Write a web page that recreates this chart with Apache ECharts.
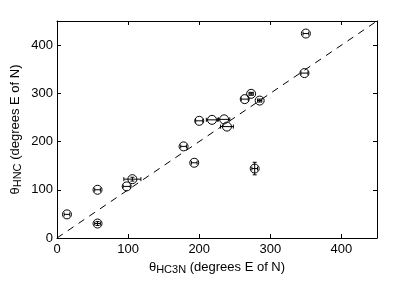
<!DOCTYPE html>
<html><head><meta charset="utf-8">
<script src="https://cdn.jsdelivr.net/npm/echarts@6/dist/echarts.min.js"></script>
<style>html,body{margin:0;padding:0;background:#fff}#c{width:415px;height:282px}</style>
</head><body><div id="c"></div><script>
// Data
const xVals = [14, 57, 57, 98, 106, 178, 193, 200, 218, 235, 239, 278, 264, 273, 285, 348, 350];
const yVals = [49, 100, 30, 107, 122, 190, 156, 243, 245, 246, 231, 144, 288, 299, 285, 342, 424];
const xErr  = [4, 4, 4, 5, 12, 4, 4, 5, 8, 8, 9, 4, 5, 3, 3, 5, 4];
const yErr  = [0, 0, 4, 0, 4, 0, 0, 0, 0, 0, 0, 13, 0, 3, 3, 0, 0];
const xTickLabels = [0, 100, 200, 300, 400];
const yTickLabels = [0, 100, 200, 300, 400];
const diagX = [0, 450];
const diagY = [0, 450];

const pts = xVals.map((x, i) => [x, yVals[i], xErr[i], yErr[i]]);
const diag = diagX.map((x, i) => [x, diagY[i]]);
const FONT = 'Liberation Sans';

const chart = echarts.init(document.getElementById('c'), null, {renderer: 'canvas'});
const axisCommon = {
  type: 'value', min: 0, max: 450, interval: 100,
  axisLine: {show: true, onZero: false, lineStyle: {color: '#000', width: 1}},
  axisTick: {show: true, inside: true, length: 4, lineStyle: {color: '#000'}},
  splitLine: {show: false}
};
function lab(list) {
  return {show: true, color: '#000', fontFamily: FONT, fontSize: 13,
    formatter: v => list.indexOf(v) >= 0 ? String(v) : ''};
}
const rich = {
  t: {fontFamily: FONT, fontSize: 13, color: '#000', lineHeight: 16},
  s: {fontFamily: FONT, fontSize: 11, color: '#000', lineHeight: 16, verticalAlign: 'bottom', padding: [10, 0, 0, 0]}
};
chart.setOption({
  animation: false,
  grid: {left: 57, right: 38, top: 21, bottom: 44, containLabel: false, outerBoundsMode: 'none'},
  xAxis: [
    Object.assign({}, axisCommon, {position: 'bottom', axisLabel: Object.assign(lab(xTickLabels), {margin: 5}),
      name: '{t|θ}{s|HC3N}{t| (degrees E of N)}', nameLocation: 'middle', nameGap: 21, nameMoveOverlap: false,
      nameTextStyle: {rich: rich}}),
    Object.assign({}, axisCommon, {position: 'top', axisLabel: {show: false}})
  ],
  yAxis: [
    Object.assign({}, axisCommon, {position: 'left', axisLabel: Object.assign(lab(yTickLabels), {margin: 4}),
      name: '{t|θ}{s|HNC}{t| (degrees E of N)}', nameLocation: 'middle', nameGap: 34, nameMoveOverlap: false,
      nameTextStyle: {rich: rich}}),
    Object.assign({}, axisCommon, {position: 'right', axisLabel: {show: false}})
  ],
  series: [
    {type: 'line', data: diag, symbol: 'none', silent: true,
      lineStyle: {color: '#000', width: 1, type: [7, 6]}, z: 1},
    {type: 'scatter', data: pts, symbol: 'circle', symbolSize: 9,
      itemStyle: {color: 'rgba(255,255,255,0)', borderColor: '#000', borderWidth: 1, opacity: 1}, z: 3},
    {type: 'custom', data: pts, z: 4,
      renderItem: function (params, api) {
        const x = api.value(0), y = api.value(1), ex = api.value(2), ey = api.value(3);
        const children = [];
        const st = {stroke: '#000', lineWidth: 1};
        const cap = 2;
        if (ex > 0) {
          const a = api.coord([x - ex, y]), b = api.coord([x + ex, y]);
          children.push({type: 'line', shape: {x1: a[0], y1: a[1], x2: b[0], y2: b[1]}, style: st});
          children.push({type: 'line', shape: {x1: a[0], y1: a[1] - cap, x2: a[0], y2: a[1] + cap}, style: st});
          children.push({type: 'line', shape: {x1: b[0], y1: b[1] - cap, x2: b[0], y2: b[1] + cap}, style: st});
        }
        if (ey > 0) {
          const a = api.coord([x, y - ey]), b = api.coord([x, y + ey]);
          children.push({type: 'line', shape: {x1: a[0], y1: a[1], x2: b[0], y2: b[1]}, style: st});
          children.push({type: 'line', shape: {x1: a[0] - cap, y1: a[1], x2: a[0] + cap, y2: a[1]}, style: st});
          children.push({type: 'line', shape: {x1: b[0] - cap, y1: b[1], x2: b[0] + cap, y2: b[1]}, style: st});
        }
        return {type: 'group', children: children};
      }}
  ]
});
</script></body></html>
